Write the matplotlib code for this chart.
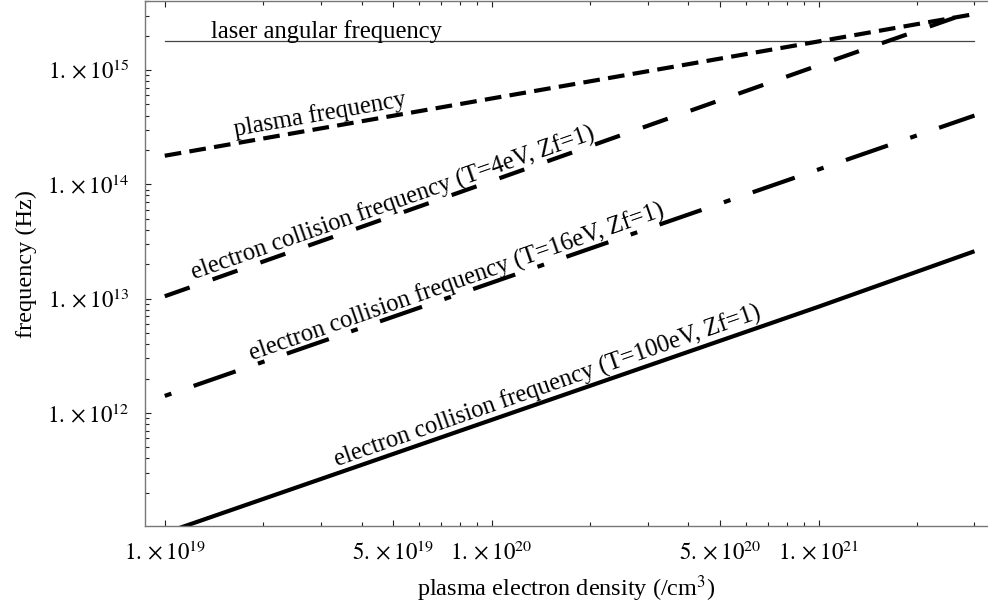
import matplotlib
matplotlib.use("Agg")
import matplotlib.pyplot as plt
from matplotlib.ticker import FixedLocator, NullFormatter, FixedFormatter

plt.rcParams['font.family'] = ['Liberation Serif', 'DejaVu Serif']
plt.rcParams['mathtext.fontset'] = 'stix'
plt.rcParams['lines.scale_dashes'] = False

# plasma electron density (/cm^3)
density = [1e19, 1e20, 1e21, 3e21]

# frequencies (Hz)
laser = [1.79e15, 1.79e15, 1.79e15, 1.79e15]
plasma = [1.78e14, 5.64e14, 1.78e15, 3.09e15]
coll_4ev = [1.05e13, 1.07e14, 1.10e15, 3.30e15]
coll_16ev = [1.41e12, 1.38e13, 1.35e14, 4.00e14]
coll_100ev = [8.9e10, 8.7e11, 8.5e12, 2.6e13]

x_major = [1e19, 5e19, 1e20, 5e20, 1e21]
x_major_labels = [r'$1.\times 10^{19}$', r'$5.\times 10^{19}$', r'$1.\times 10^{20}$',
                  r'$5.\times 10^{20}$', r'$1.\times 10^{21}$']
y_major = [1e12, 1e13, 1e14, 1e15]
y_major_labels = [r'$1.\times 10^{12}$', r'$1.\times 10^{13}$', r'$1.\times 10^{14}$',
                  r'$1.\times 10^{15}$']

fig = plt.figure(figsize=(9.88, 6.07), dpi=100)
ax = fig.add_axes([145/988, 81/607, 843/988, 525/607])

ax.plot(density, laser, color='#444444', lw=0.9)
ax.plot(density, plasma, color='black', lw=3.0, dashes=(12, 6), dash_capstyle='butt')
ax.plot(density, coll_4ev, color='black', lw=3.0, dashes=(19, 17.5), dash_capstyle='butt')
ax.plot(density, coll_16ev, color='black', lw=3.0, dashes=(5, 17, 32, 17),
        dash_capstyle='butt')
ax.plot(density, coll_100ev, color='black', lw=3.0, solid_capstyle='butt')

ax.set_xscale('log')
ax.set_yscale('log')
ax.set_xlim(8.7e18, 3.3e21)
ax.set_ylim(1.026e11, 4.02e15)

ax.xaxis.set_major_locator(FixedLocator(x_major))
ax.xaxis.set_major_formatter(FixedFormatter(x_major_labels))
x_minor = [m * 10.0**e for e in (19, 20, 21) for m in range(2, 10)
           if m * 10.0**e <= 3.2e21 and m not in (5,)]
ax.xaxis.set_minor_locator(FixedLocator(x_minor))
ax.xaxis.set_minor_formatter(NullFormatter())

ax.yaxis.set_major_locator(FixedLocator(y_major))
ax.yaxis.set_major_formatter(FixedFormatter(y_major_labels))
y_minor = [m * 10.0**e for e in (11, 12, 13, 14, 15) for m in range(2, 10)]
ax.yaxis.set_minor_locator(FixedLocator(y_minor))
ax.yaxis.set_minor_formatter(NullFormatter())

ax.tick_params(which='both', direction='in', top=True, right=False, color='#222222',
               labelsize=16.5)
ax.tick_params(axis='x', which='both', pad=11)
ax.tick_params(axis='y', which='both', pad=11)
ax.tick_params(which='major', length=4.5, width=0.8)
ax.tick_params(which='minor', length=2.8, width=0.8)

for side in ['left', 'bottom', 'top']:
    ax.spines[side].set_color('#777777')
    ax.spines[side].set_linewidth(1.0)
ax.spines['right'].set_visible(False)

ax.set_xlabel('plasma electron density (/cm$^3$)', fontsize=17.5, labelpad=6)
ax.set_ylabel('frequency (Hz)', fontsize=17.5, labelpad=7)

ax.text(3.13e19, 2.19e15, 'laser angular frequency', fontsize=17.7, ha='center', va='center')
ax.text(2.98e19, 4.12e14, 'plasma frequency', fontsize=17.7, ha='center', va='center',
        rotation=10, rotation_mode='anchor')
ax.text(4.98e19, 6.73e13, 'electron collision frequency (T=4eV, Zf=1)', fontsize=17.7,
        ha='center', va='center', rotation=19.3, rotation_mode='anchor')
ax.text(7.82e19, 1.37e13, 'electron collision frequency (T=16eV, Zf=1)', fontsize=17.7,
        ha='center', va='center', rotation=19.3, rotation_mode='anchor')
ax.text(1.48e20, 1.69e12, 'electron collision frequency (T=100eV, Zf=1)', fontsize=17.7,
        ha='center', va='center', rotation=19.3, rotation_mode='anchor')

fig.savefig('out.png', dpi=100)
